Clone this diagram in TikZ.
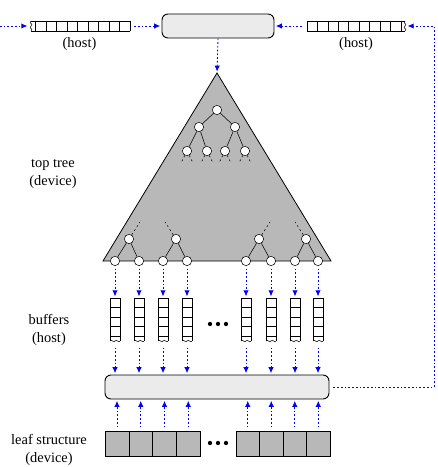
\documentclass[tikz,border=0pt]{standalone}
\usepackage{fontspec}
\setmainfont{Liberation Serif}
\usetikzlibrary{arrows.meta,positioning}
\definecolor{flowblue}{RGB}{0,0,255}
\definecolor{boxfill}{RGB}{235,235,235}
\definecolor{treefill}{RGB}{184,184,184}
\newcommand{\wavyv}[3]{% x, top y, bottom y
  \draw (#1,#2) .. controls (#1-3,#2+2.5) and (#1+3,#2+2.5) .. (#1,{(#2+#3)/2})
    .. controls (#1-3,#3-2.5) and (#1+3,#3-2.5) .. (#1,#3);}
\newcommand{\wavyh}[2]{% centre x, y
  \draw (#1-5,#2) .. controls (#1-3.5,#2-2.5) and (#1-1.5,#2+2.5) .. (#1,#2)
    .. controls (#1+1.5,#2-2.5) and (#1+3.5,#2+2.5) .. (#1+5,#2);}

\begin{document}
\begin{tikzpicture}[
  x=0.75pt, y=-0.75pt,
  font=\fontsize{10.8}{13.5}\selectfont,
  flow/.style={
    flowblue,
    line width=0.65pt,
    dash pattern=on 1.3pt off 1.5pt,
    -{Latex[length=4.5pt,width=4pt]},
    shorten >=1pt
  },
  procbox/.style={
    draw,
    line width=0.7pt,
    fill=boxfill,
    rounded corners=4.5pt,
    minimum height=18pt,
    inner sep=0pt
  },
  tnode/.style={
    circle,
    draw,
    fill=white,
    minimum size=7pt,
    inner sep=0pt
  },
  buf/.style={
    minimum width=7.5pt,
    minimum height=33pt,
    inner sep=0pt
  },
  leafcell/.style={
    draw,
    fill=treefill,
    minimum width=17.7pt,
    minimum height=18.75pt,
    inner sep=0pt
  },
  stub/.style={
    dash pattern=on 1.5pt off 2pt,
    thin
  },
  lbl/.style={
    align=center,
    inner sep=0pt
  }
]
\useasboundingbox (0,0) rectangle (438,467);

\node[procbox, minimum width=84pt] (merge) at (218,26) {};
\node[minimum width=75.75pt, minimum height=7.9pt, inner sep=0pt] (hostL) at (79.5,26) {};
\node[minimum width=75pt, minimum height=7.9pt, inner sep=0pt] (hostR) at (356,26) {};
\coordinate (src) at (0,26);

\draw (31,21) -- (130,21) (31,31) -- (130,31);
\foreach \k in {0,...,9} \draw ({35.5+10.5*\k},21) -- ({35.5+10.5*\k},31);
\wavyv{31}{21}{31}
\draw (307,21) -- (405,21) (307,31) -- (405,31);
\foreach \k in {0,...,9} \draw ({307+10.44*\k},21) -- ({307+10.44*\k},31);
\wavyv{405}{21}{31}

\node[lbl, below=4.5pt of hostL] {(host)};
\node[lbl, below=4.5pt of hostR] {(host)};

\coordinate (apex) at (217,73);
\draw[line width=0.6pt, fill=treefill] (apex) -- (331,261) -- (103,261) -- cycle;

\node[tnode] (r) at (217,110) {};
\node[tnode] (a1) at (199,127) {};
\node[tnode] (a2) at (235,127) {};
\node[tnode] (d1) at (187,151) {};
\node[tnode] (d2) at (207,151) {};
\node[tnode] (d3) at (225,151) {};
\node[tnode] (d4) at (245,151) {};
\draw (r) -- (a1) (r) -- (a2);
\draw (a1) -- (d1) (a1) -- (d2) (a2) -- (d3) (a2) -- (d4);
\foreach \i/\x in {1/187,2/207,3/225,4/245}
  \draw[stub] (d\i) -- (\x-6,163) (d\i) -- (\x+6,163);

\node[tnode] (p1) at (129,239) {};
\node[tnode] (p2) at (176,239) {};
\node[tnode] (p3) at (259,239) {};
\node[tnode] (p4) at (306,239) {};
\draw[stub] (p1) -- (140,222);
\draw[stub] (p2) -- (165,222);
\draw[stub] (p3) -- (270,222);
\draw[stub] (p4) -- (295,222);

\foreach \x [count=\i] in {115,139,163,187,246,271,295,318}
  \node[tnode] (l\i) at (\x,261) {};
\foreach \p/\a/\b in {1/1/2,2/3/4,3/5/6,4/7/8}
  \draw (p\p) -- (l\a) (p\p) -- (l\b);

\foreach \x [count=\i] in {115,139,163,187,246,271,295,318} {
  \node[buf] (b\i) at (\x,320) {};
  \draw (\x-5,298) -- (\x-5,341) (\x+5,298) -- (\x+5,341);
  \foreach \y in {298,307.5,317,326.5,336} \draw (\x-5,\y) -- (\x+5,\y);
  \wavyh{\x}{341}
}
\foreach \x in {210,218,226} \fill (\x,324) circle (1.6pt);

\node[procbox, minimum width=168pt] (gather) at (217,387) {};

\foreach \x [count=\i] in {117,140.75,164.5,188.25,247.75,271.25,294.75,318.25}
  \node[leafcell] (c\i) at (\x,443.5) {};
\foreach \x in {210,218,226} \fill (\x,443) circle (1.6pt);

\node[lbl] (toplbl) at (53,174) {top tree\\(device)};
\node[lbl] (buflbl) at (49,330) {buffers\\(host)};
\node[lbl] (leaflbl) at (49,450) {leaf structure\\(device)};

\draw[flow] (src) -- (hostL.west);
\draw[flow, shorten <=3pt] (hostL.east) -- (merge.west);
\draw[flow, shorten <=3pt] (hostR.west) -- (merge.east);
\draw[flow] (merge.south) -- (apex);

\foreach \i in {1,...,8} {
  \draw[flow, shorten <=2pt] (l\i.south) -- (b\i.north);
  \draw[flow, shorten <=4pt] (b\i.south) -- (b\i.south |- gather.north);
  \draw[flow, shorten <=2.5pt] (c\i.north) -- (c\i.north |- gather.south);
}

\coordinate (turn) at (434,387);
\draw[flow, shorten <=3pt] (gather.east) -- (turn) |- (hostR.east);

\end{tikzpicture}
\end{document}
